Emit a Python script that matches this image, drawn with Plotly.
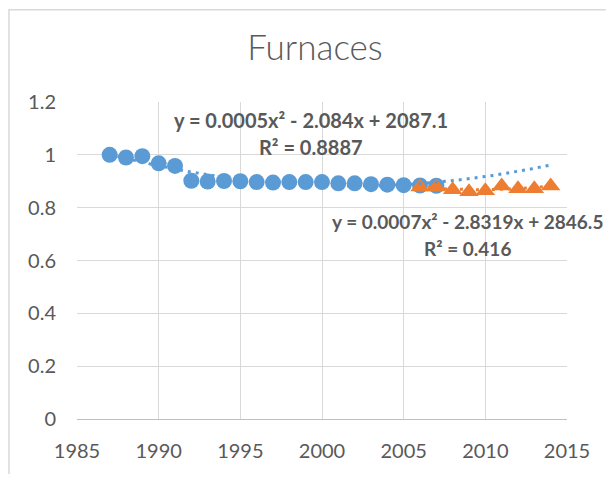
import numpy as np
import plotly.graph_objects as go

blue = '#5B9BD5'
orange = '#ED7D31'
grey = '#595959'

# データ
years_a = [1987, 1988, 1989, 1990, 1991, 1992, 1993, 1994, 1995, 1996, 1997,
           1998, 1999, 2000, 2001, 2002, 2003, 2004, 2005, 2006, 2007]
values_a = [1.0, 0.99, 0.995, 0.968, 0.958, 0.902, 0.899, 0.901, 0.9, 0.897, 0.895,
            0.897, 0.897, 0.897, 0.892, 0.892, 0.889, 0.887, 0.885, 0.884, 0.883]
years_b = [2006, 2007, 2008, 2009, 2010, 2011, 2012, 2013, 2014]
values_b = [0.878, 0.878, 0.868, 0.86, 0.864, 0.882, 0.872, 0.872, 0.882]

eq_a = ['y = 0.0005x² - 2.084x + 2087.1', 'R² = 0.8887']
eq_b = ['y = 0.0007x² - 2.8319x + 2846.5', 'R² = 0.416']

x_ticks = [1985, 1990, 1995, 2000, 2005, 2010, 2015]
y_ticks = [0, 0.2, 0.4, 0.6, 0.8, 1, 1.2]

# 二次の近似曲線
coef_a = np.polyfit(years_a, values_a, 2)
coef_b = np.polyfit(years_b, values_b, 2)
xa = np.linspace(years_a[0], 2014, 200)
xb = np.linspace(years_b[0], years_b[-1], 100)

fig = go.Figure()
fig.add_trace(go.Scatter(x=years_a, y=values_a, mode='markers',
                         marker=dict(size=16, color=blue), name='A'))
fig.add_trace(go.Scatter(x=years_b, y=values_b, mode='markers',
                         marker=dict(symbol='triangle-up', size=17, color=orange),
                         name='B'))
fig.add_trace(go.Scatter(x=xa, y=np.polyval(coef_a, xa), mode='lines',
                         line=dict(color=blue, width=3, dash='3px,5px'),
                         hoverinfo='skip'))
fig.add_trace(go.Scatter(x=xb, y=np.polyval(coef_b, xb), mode='lines',
                         line=dict(color=orange, width=3, dash='3px,5px'),
                         hoverinfo='skip'))

annotations = []
for (cx, cy), lines, fs in [((1999.3, 1.08), eq_a, 20), ((2008.9, 0.695), eq_b, 19)]:
    for k, t in enumerate(lines):
        annotations.append(dict(x=cx, y=cy, xref='x', yref='y', text=t,
                                showarrow=False,
                                font=dict(family='Lato', size=fs, color=grey,
                                          weight='bold'),
                                yshift=14 - 27 * k))

# ページの余白(8px)を考慮したサイズとマージン
fig.update_layout(
    width=598, height=466,
    margin=dict(l=69, r=39, t=94, b=52),
    paper_bgcolor='white', plot_bgcolor='white',
    showlegend=False,
    font=dict(family='Lato', color=grey),
    title=dict(text='Furnaces', x=(315 - 8) / 598, xanchor='center',
               y=1 - 40 / 466, yanchor='middle',
               font=dict(family='Lato', size=35, color=grey, weight=300)),
    xaxis=dict(range=[1985, 2015], tickvals=x_ticks, showgrid=True,
               gridcolor='#d9d9d9', gridwidth=1, zeroline=False,
               showline=True, linecolor='#bfbfbf', linewidth=1,
               ticks='', ticklabelstandoff=14,
               tickfont=dict(size=20, color=grey)),
    yaxis=dict(range=[0, 1.2], tickvals=y_ticks, showgrid=True,
               gridcolor='#d9d9d9', gridwidth=1, zeroline=False,
               showline=False, ticks='', ticklabelstandoff=20,
               tickfont=dict(size=20, color=grey)),
    annotations=annotations,
    shapes=[dict(type='rect', xref='paper', yref='paper',
                 x0=-68 / 490, x1=1.3, y0=-0.4, y1=1 + 93 / 320,
                 line=dict(color='#d9d9d9', width=1.5), layer='below')],
)

fig.write_html('out.html')
